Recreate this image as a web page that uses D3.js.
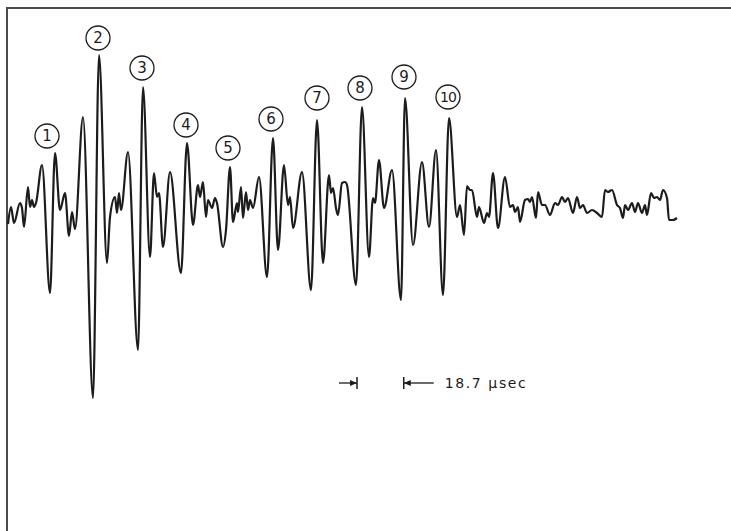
<!DOCTYPE html>
<html>
<head>
<meta charset="utf-8">
<script src="https://cdn.jsdelivr.net/npm/d3@7/dist/d3.min.js"></script>
<style>
  html, body { margin: 0; padding: 0; background: #fff; }
  svg { display: block; }
</style>
</head>
<body>
<div id="chart"></div>
<script>
// ── Trace samples: time (µsec) / amplitude (arb.) ──
const TIME = [
  0, 1.2, 2.4, 4.8, 5.6, 6.4, 8.0, 8.8, 9.6, 10.4, 11.2, 13.6, 16.8, 18.8, 20.8,
  22.8, 24.4, 25.6, 26.8, 30.0, 34.0, 36.4, 39.6, 40.8, 42.8, 43.6, 44.4, 45.2,
  48.0, 52.0, 54.0, 56.8, 58.4, 59.6, 60.4, 62.0, 64.8, 69.2, 71.6, 74.0, 76.0,
  76.8, 78.0, 79.2, 80.0, 81.6, 82.8, 83.6, 86.0, 87.2, 88.8, 90.0, 91.6, 92.0,
  93.2, 94.0, 95.2, 96.0, 96.8, 98.0, 100.4, 103.6, 106.0, 108.0, 110.4, 112.0,
  112.8, 114.0, 117.6, 121.2, 123.6, 126.0, 128.4, 129.2, 130.0, 131.2, 132.0,
  133.6, 134.8, 135.6, 139.2, 141.6, 144.4, 146.0, 146.8, 148.4, 150.4, 153.6,
  157.2, 158.8, 162.0, 165.6, 168.4, 171.2, 174.0, 176.4, 179.6, 180.8, 182.4,
  183.6, 184.8, 185.6, 187.6, 188.4, 190.4, 191.6, 192.4, 194.0, 196.0, 198.8,
  200.8, 202.0, 202.8, 204.0, 204.8, 206.8, 208.0, 208.8, 209.6, 211.2, 212.0,
  213.6, 214.8, 216.8, 218.8, 220.0, 221.6, 222.8, 224.0, 226.0, 227.6, 228.8,
  230.0, 231.6, 233.6, 235.6, 237.6, 238.8, 240.0, 241.6, 243.6, 244.8, 246.0,
  246.8, 248.0, 249.6, 250.8, 252.0, 253.6, 254.8, 255.6, 257.2, 258.4, 259.6,
  260.8, 262.0, 263.6, 264.4, 266.0, 267.6
];
const AMPLITUDE = [
  -14, 3, -13, 7, 2, -17, 23, 3, 10, 3, 7, 45, -83, 57, 0,
  17, -26, -2, -19, 93, -188, 155, -53, -7, 13, -3, 17, 0,
  58, -140, 123, -47, 37, 13, 17, -37, 38, -63, 67, -15, 25,
  13, 28, -7, 10, 2, 12, 7, -37, -20, 43, -12, 7, -2,
  23, -8, 18, 0, 10, 2, 33, -67, 72, -40, 45, 5,
  13, -18, 38, -80, 90, -53, 35, 17, 22, 2, -5,
  27, 28, 25, -75, 103, -47, 12, 7, 50, 2, 40,
  -90, 112, -35, 48, -17, 60, -85, 92, -7, 5, -25,
  24, 20, 20, -7, 3, -13, -3, -7, 37, -18, 33,
  3, 5, -2, 3, -12, 10, 11, 8, 13, -8, 18,
  5, 5, -5, 7, 5, 13, 8, 12, -3, 13, 2,
  5, -3, 0, -3, -7, 20, 18, 20, 5, 2, -8,
  5, 0, 7, -2, 7, -3, 5, -5, 17, 12, 13,
  10, 20, 12, -10, -10, -8
];

// circled echo numbers, placed at (time, amplitude)
const LABEL_NUM = [1, 2, 3, 4, 5, 6, 7, 8, 9, 10];
const LABEL_T   = [15.6, 36.0, 53.6, 71.2, 88.0, 105.2, 123.6, 140.8, 158.4, 176.0];
const LABEL_A   = [74, 172, 142, 85, 62, 91, 112, 122, 133, 113];

// time scale bar
const SCALE_START = 139.6;
const SCALE_LEN = 18.7;
const SCALE_TEXT = '18.7 \u03bcsec';

const W = 731, H = 531;
const INK = '#1c1c1c';

const svg = d3.select('#chart').append('svg')
  .attr('width', W).attr('height', H)
  .attr('viewBox', `0 0 ${W} ${H}`);

svg.append('rect').attr('width', W).attr('height', H).attr('fill', '#fff');

const x = d3.scaleLinear().domain([0, 268]).range([8, 678]);
const y = d3.scaleLinear().domain([-200, 200]).range([410, 10]);

// ── Frame (top + left edges only) ──────────────────────────────
svg.append('path')
  .attr('d', `M7,${H} L7,8 L${W},8`)
  .attr('fill', 'none')
  .attr('stroke', '#4a4a4a').attr('stroke-width', 2);

// ── Trace ──────────────────────────────────────────────────────
const pts = TIME.map((t, i) => [t, AMPLITUDE[i]]);
const line = d3.line()
  .x(d => x(d[0])).y(d => y(d[1]))
  .curve(d3.curveMonotoneX);

svg.append('path')
  .datum(pts)
  .attr('d', line)
  .attr('fill', 'none')
  .attr('stroke', INK)
  .attr('stroke-width', 2.2)
  .attr('stroke-linejoin', 'round');

// ── Circled labels ─────────────────────────────────────────────
const lab = svg.append('g');
LABEL_NUM.forEach((n, i) => {
  const cx = x(LABEL_T[i]), cy = y(LABEL_A[i]);
  lab.append('circle')
    .attr('cx', cx).attr('cy', cy).attr('r', 12)
    .attr('fill', '#fff')
    .attr('stroke', INK).attr('stroke-width', 1.3);
  lab.append('text')
    .attr('x', cx).attr('y', cy + 0.5)
    .attr('text-anchor', 'middle')
    .attr('dominant-baseline', 'middle')
    .attr('font-family', 'DejaVu Sans, sans-serif')
    .attr('font-size', n === 10 ? 14 : 15)
    .attr('letter-spacing', n === 10 ? -1 : 0)
    .attr('fill', INK)
    .text(n);
});

// ── Scale bar ──────────────────────────────────────────────────
const sb = svg.append('g').attr('stroke', INK).attr('fill', INK);
const xa = x(SCALE_START), xb = x(SCALE_START + SCALE_LEN), yb = 383;
// left marker: arrow pointing right onto a bar
sb.append('line').attr('x1', xa - 18).attr('y1', yb).attr('x2', xa).attr('y2', yb).attr('stroke-width', 1.3);
sb.append('line').attr('x1', xa).attr('y1', yb - 6).attr('x2', xa).attr('y2', yb + 6).attr('stroke-width', 1.5);
sb.append('path').attr('d', `M${xa},${yb} l-7,-3 l0,6 z`).attr('stroke', 'none');
// right marker: bar with arrow pointing left
sb.append('line').attr('x1', xb).attr('y1', yb - 6).attr('x2', xb).attr('y2', yb + 6).attr('stroke-width', 1.5);
sb.append('line').attr('x1', xb).attr('y1', yb).attr('x2', xb + 30).attr('y2', yb).attr('stroke-width', 1.3);
sb.append('path').attr('d', `M${xb},${yb} l7,-3 l0,6 z`).attr('stroke', 'none');

svg.append('text')
  .attr('x', xb + 41).attr('y', yb + 5)
  .attr('font-family', 'DejaVu Sans, sans-serif')
  .attr('font-size', 14)
  .attr('letter-spacing', 1.6)
  .attr('fill', INK)
  .text(SCALE_TEXT);
</script>
</body>
</html>
